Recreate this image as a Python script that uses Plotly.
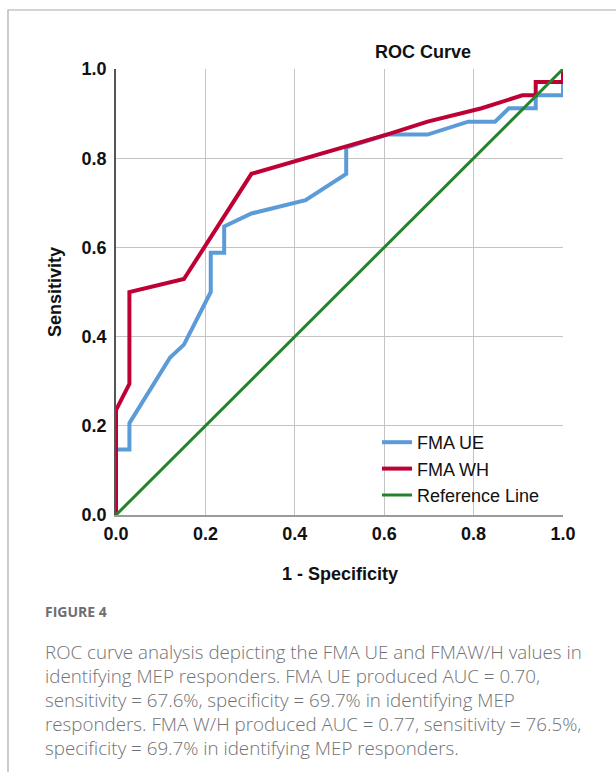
import plotly.graph_objects as go

# ---- data ----
ue_fpr = [0.0, 0.0, 0.030, 0.030, 0.121, 0.152, 0.212, 0.212, 0.242, 0.242, 0.303, 0.424,
          0.515, 0.515, 0.606, 0.697, 0.788, 0.848, 0.879, 0.939, 0.939, 1.0, 1.0]
ue_tpr = [0.0, 0.147, 0.147, 0.206, 0.353, 0.382, 0.500, 0.588, 0.588, 0.647, 0.676, 0.706,
          0.765, 0.824, 0.853, 0.853, 0.882, 0.882, 0.912, 0.912, 0.941, 0.941, 1.0]
wh_fpr = [0.0, 0.0, 0.030, 0.030, 0.152, 0.303, 0.606, 0.697, 0.818, 0.909, 0.939, 0.939, 1.0, 1.0]
wh_tpr = [0.0, 0.235, 0.294, 0.500, 0.529, 0.765, 0.853, 0.882, 0.912, 0.941, 0.941, 0.971, 0.971, 1.0]
ref_x = [0.0, 1.0]
ref_y = [0.0, 1.0]
tick_vals = [0.0, 0.2, 0.4, 0.6, 0.8, 1.0]
tick_text = ["0.0", "0.2", "0.4", "0.6", "0.8", "1.0"]

caption_head = "FIGURE 4"
caption_lines = [
    "ROC curve analysis depicting the FMA UE and FMAW/H values in",
    "identifying MEP responders. FMA UE produced AUC = 0.70,",
    "sensitivity = 67.6%, specificity = 69.7% in identifying MEP",
    "responders. FMA W/H produced AUC = 0.77, sensitivity = 76.5%,",
    "specificity = 69.7% in identifying MEP responders.",
]

W, H = 616, 772
L, R, T, B = 116, 53, 69, 257
PW, PH = W - L - R, H - T - B


def px_x(px):
    return (px - L) / PW


def px_y(py):
    return 1 - (py - T) / PH


FONT = "Liberation Sans, Arial, sans-serif"
CAP_FONT = "Open Sans, sans-serif"

fig = go.Figure()
fig.add_trace(go.Scatter(x=ue_fpr, y=ue_tpr, mode="lines", name="FMA UE",
                         line=dict(color="#5b9bd8", width=4), cliponaxis=False))
fig.add_trace(go.Scatter(x=wh_fpr, y=wh_tpr, mode="lines", name="FMA WH",
                         line=dict(color="#bf0034", width=4), cliponaxis=False))
fig.add_trace(go.Scatter(x=ref_x, y=ref_y, mode="lines", name="Reference Line",
                         line=dict(color="#23842a", width=3), cliponaxis=False))

axis_common = dict(range=[0, 1], tickvals=tick_vals, ticktext=tick_text,
                   showgrid=True, gridcolor="#c4c4c4", gridwidth=1.2, zeroline=False,
                   ticks="", tickfont=dict(family=FONT, size=18, color="#111", weight="bold"),
                   fixedrange=True)

fig.update_layout(
    width=W, height=H,
    margin=dict(l=L, r=R, t=T, b=B),
    paper_bgcolor="white", plot_bgcolor="white",
    showlegend=True,
    legend=dict(x=px_x(377), y=px_y(424), xanchor="left", yanchor="top",
                bgcolor="rgba(255,255,255,0)", font=dict(family=FONT, size=18, color="#111"),
                tracegroupgap=0, itemwidth=30),
    xaxis=dict(**axis_common, showline=True, linecolor="#9a9a9a", linewidth=1.5, ticklabelstandoff=2),
    yaxis=dict(**axis_common, showline=True, linecolor="#555", linewidth=1.5, ticklabelstandoff=4),
)

annotations = [
    dict(text="ROC Curve", x=px_x(423), y=px_y(52), xanchor="center", yanchor="middle",
         font=dict(family=FONT, size=18, color="#111", weight="bold")),
    dict(text="1 - Specificity", x=px_x(340), y=px_y(574), xanchor="center", yanchor="middle",
         font=dict(family=FONT, size=18, color="#111", weight="bold")),
    dict(text="Sensitivity", x=px_x(55), y=px_y(292), xanchor="center", yanchor="middle",
         textangle=-90, font=dict(family=FONT, size=18, color="#111", weight="bold")),
    dict(text=caption_head, x=px_x(43), y=px_y(611), xanchor="left", yanchor="middle",
         font=dict(family=CAP_FONT, size=14, color="#6d6e71", weight="bold")),
]
for i, line in enumerate(caption_lines):
    annotations.append(dict(text=line, x=px_x(43), y=px_y(651 + 24.2 * i),
                            xanchor="left", yanchor="middle",
                            font=dict(family=CAP_FONT, size=18.75, color="#717275", weight=300)))
for a in annotations:
    a.update(xref="paper", yref="paper", showarrow=False)
fig.update_layout(annotations=annotations)

# outer frame (open to the right/bottom edges)
fig.add_shape(type="rect", xref="paper", yref="paper",
              x0=px_x(8), x1=px_x(640), y0=px_y(800), y1=px_y(10),
              line=dict(color="#aaaaaa", width=1.2), fillcolor="rgba(0,0,0,0)", layer="below")

fig.write_html("out.html")
